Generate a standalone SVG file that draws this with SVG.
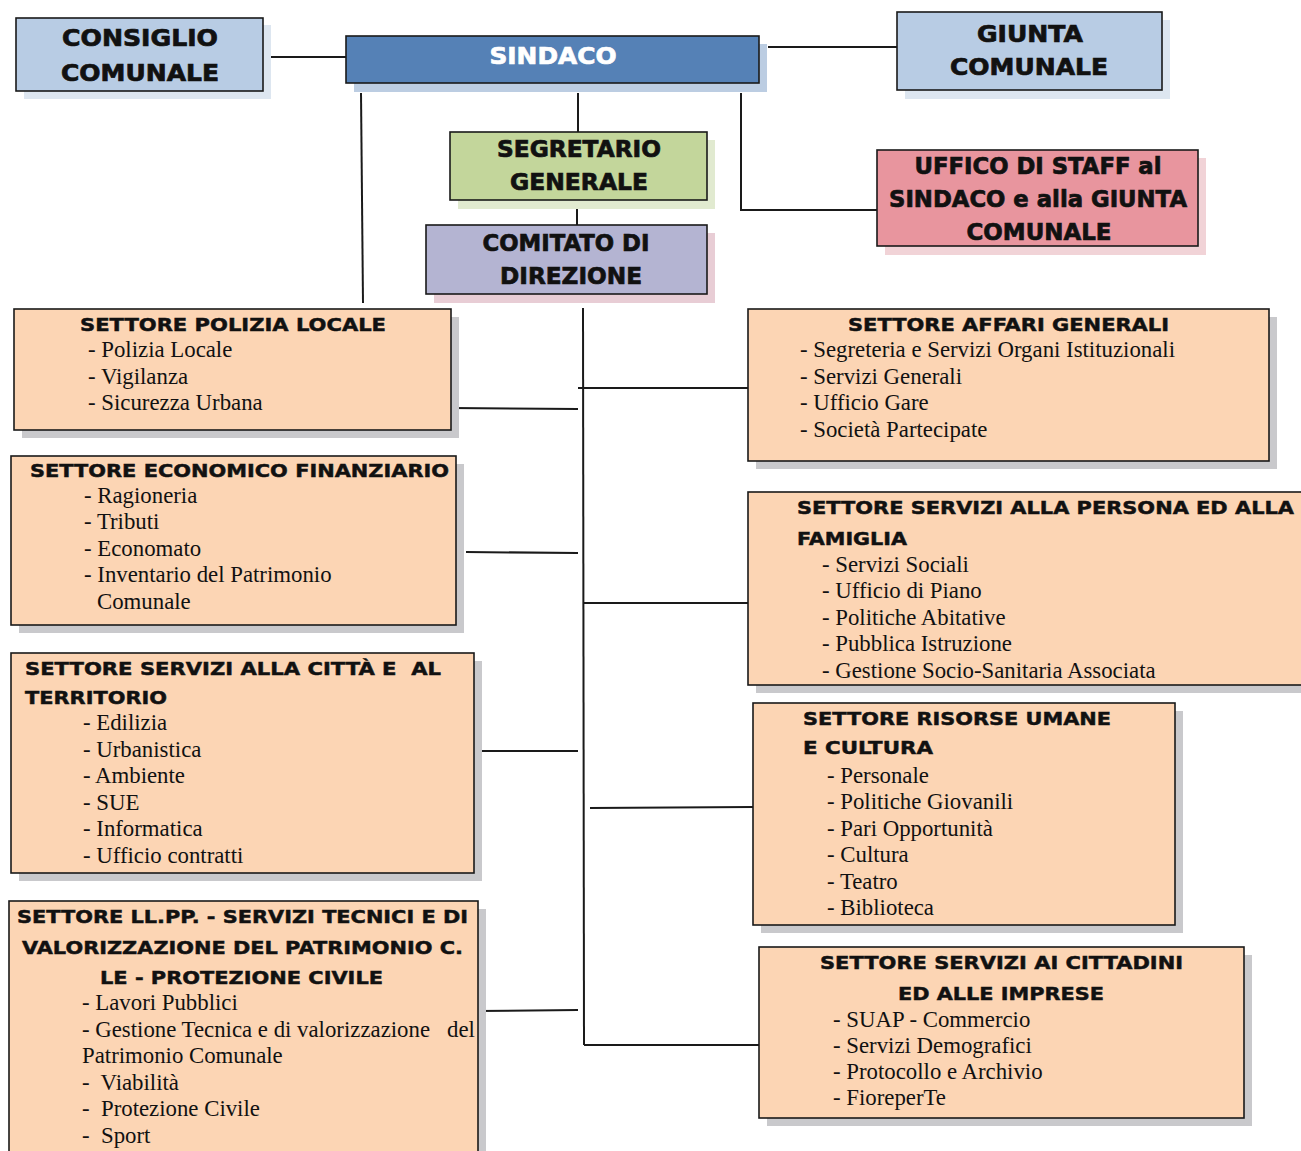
<svg xmlns="http://www.w3.org/2000/svg" width="1301" height="1151" viewBox="0 0 1301 1151">
<style>
.box{stroke:#1a1a1a;stroke-width:1.6}
.peach{fill:#fcd5b4}
.sh{fill:#c9c9cc}
.hd{font-family:"DejaVu Sans","Liberation Sans",sans-serif;font-weight:bold;fill:#111;stroke:#111;stroke-width:0.45}
.top{font-family:"DejaVu Sans","Liberation Sans",sans-serif;font-weight:bold;fill:#111;stroke:#111;stroke-width:0.7;font-size:23px}
.wt{fill:#ffffff;stroke:#ffffff}
.it{font-family:"Liberation Serif","Times New Roman",serif;font-size:22.8px;fill:#111}
.ln{stroke:#1a1a1a;stroke-width:2;fill:none}
</style>
<rect width="1301" height="1151" fill="#ffffff"/>

<g id="connectors">
<line class="ln" x1="264" y1="57" x2="346" y2="57"/>
<line class="ln" x1="768" y1="47" x2="897" y2="47"/>
<line class="ln" x1="361" y1="93" x2="363" y2="303"/>
<line class="ln" x1="578" y1="93" x2="578" y2="132"/>
<line class="ln" x1="577" y1="200" x2="577" y2="232"/>
<polyline class="ln" points="741,93 741,210 877,210"/>
<line class="ln" x1="583" y1="308" x2="584" y2="1045"/>
<line class="ln" x1="578" y1="388" x2="748" y2="388"/>
<line class="ln" x1="451" y1="408" x2="578" y2="409"/>
<line class="ln" x1="466" y1="552" x2="578" y2="553"/>
<line class="ln" x1="584" y1="603" x2="748" y2="603"/>
<line class="ln" x1="474" y1="751" x2="578" y2="751"/>
<line class="ln" x1="590" y1="808" x2="753" y2="807"/>
<line class="ln" x1="478" y1="1011" x2="578" y2="1010"/>
<line class="ln" x1="584" y1="1045" x2="759" y2="1045"/>
</g>

<g id="consiglio">
<rect x="24" y="25" width="247" height="74" fill="#dde6f0"/>
<rect class="box" x="16" y="18" width="247" height="73" fill="#b8cce4"/>
<text class="top" x="140" y="46" text-anchor="middle" textLength="156" lengthAdjust="spacingAndGlyphs">CONSIGLIO</text>
<text class="top" x="140" y="81" text-anchor="middle" textLength="158" lengthAdjust="spacingAndGlyphs">COMUNALE</text>
</g>

<g id="sindaco">
<rect x="354" y="44" width="413" height="48" fill="#bccde2"/>
<rect class="box" x="346" y="36" width="413" height="47" fill="#5581b6"/>
<text class="top wt" x="553" y="64" text-anchor="middle" textLength="127" lengthAdjust="spacingAndGlyphs">SINDACO</text>
</g>

<g id="giunta">
<rect x="905" y="20" width="265" height="79" fill="#dde6f0"/>
<rect class="box" x="897" y="12" width="265" height="78" fill="#b8cce4"/>
<text class="top" x="1030" y="42" text-anchor="middle" textLength="106" lengthAdjust="spacingAndGlyphs">GIUNTA</text>
<text class="top" x="1029" y="75" text-anchor="middle" textLength="158" lengthAdjust="spacingAndGlyphs">COMUNALE</text>
</g>

<g id="segretario">
<rect x="458" y="140" width="257" height="69" fill="#e1ead0"/>
<rect class="box" x="450" y="132" width="257" height="68" fill="#c3d69b"/>
<text class="top" x="579" y="157" text-anchor="middle" textLength="164" lengthAdjust="spacingAndGlyphs">SEGRETARIO</text>
<text class="top" x="579" y="190" text-anchor="middle" textLength="138" lengthAdjust="spacingAndGlyphs">GENERALE</text>
</g>

<g id="comitato">
<rect x="434" y="233" width="281" height="70" fill="#e8cdd5"/>
<rect class="box" x="426" y="225" width="281" height="69" fill="#b4b4d2"/>
<text class="top" x="566" y="251" text-anchor="middle" textLength="167" lengthAdjust="spacingAndGlyphs">COMITATO DI</text>
<text class="top" x="571" y="284" text-anchor="middle" textLength="142" lengthAdjust="spacingAndGlyphs">DIREZIONE</text>
</g>

<g id="staff">
<rect x="885" y="158" width="321" height="97" fill="#f1d3d7"/>
<rect class="box" x="877" y="150" width="321" height="96" fill="#e8959e"/>
<text class="top" x="1038" y="174" text-anchor="middle" textLength="247" lengthAdjust="spacingAndGlyphs">UFFICO DI STAFF al</text>
<text class="top" x="1038" y="207" text-anchor="middle" textLength="298" lengthAdjust="spacingAndGlyphs">SINDACO e alla GIUNTA</text>
<text class="top" x="1039" y="240" text-anchor="middle" textLength="145" lengthAdjust="spacingAndGlyphs">COMUNALE</text>
</g>

<g id="polizia">
<rect class="sh" x="22" y="317" width="437" height="121"/>
<rect class="box peach" x="14" y="309" width="437" height="121"/>
<text class="hd" x="80" y="331" font-size="17" textLength="306" lengthAdjust="spacingAndGlyphs">SETTORE POLIZIA LOCALE</text>
<text class="it" x="88" y="357">- Polizia Locale</text>
<text class="it" x="88" y="384">- Vigilanza</text>
<text class="it" x="88" y="410">- Sicurezza Urbana</text>
</g>

<g id="economico">
<rect class="sh" x="19" y="464" width="445" height="169"/>
<rect class="box peach" x="11" y="456" width="445" height="169"/>
<text class="hd" x="30" y="477" font-size="17" textLength="419" lengthAdjust="spacingAndGlyphs">SETTORE ECONOMICO FINANZIARIO</text>
<text class="it" x="84" y="503">- Ragioneria</text>
<text class="it" x="84" y="529">- Tributi</text>
<text class="it" x="84" y="556">- Economato</text>
<text class="it" x="84" y="582">- Inventario del Patrimonio</text>
<text class="it" x="97" y="609">Comunale</text>
</g>

<g id="citta">
<rect class="sh" x="19" y="661" width="463" height="220"/>
<rect class="box peach" x="11" y="653" width="463" height="220"/>
<text class="hd" x="25" y="675" font-size="17" textLength="416" lengthAdjust="spacingAndGlyphs" xml:space="preserve">SETTORE SERVIZI ALLA CITTÀ E  AL</text>
<text class="hd" x="25" y="704" font-size="17" textLength="142" lengthAdjust="spacingAndGlyphs">TERRITORIO</text>
<text class="it" x="83" y="730">- Edilizia</text>
<text class="it" x="83" y="757">- Urbanistica</text>
<text class="it" x="83" y="783">- Ambiente</text>
<text class="it" x="83" y="810">- SUE</text>
<text class="it" x="83" y="836">- Informatica</text>
<text class="it" x="83" y="863">- Ufficio contratti</text>
</g>

<g id="llpp">
<rect class="sh" x="17" y="909" width="469" height="250"/>
<rect class="box peach" x="9" y="901" width="469" height="260"/>
<text class="hd" x="17" y="923" font-size="17" textLength="451" lengthAdjust="spacingAndGlyphs">SETTORE LL.PP. - SERVIZI TECNICI E DI</text>
<text class="hd" x="22" y="954" font-size="17" textLength="441" lengthAdjust="spacingAndGlyphs">VALORIZZAZIONE DEL PATRIMONIO C.</text>
<text class="hd" x="100" y="984" font-size="17" textLength="283" lengthAdjust="spacingAndGlyphs">LE - PROTEZIONE CIVILE</text>
<text class="it" x="82" y="1010">- Lavori Pubblici</text>
<text class="it" x="82" y="1037" xml:space="preserve">- Gestione Tecnica e di valorizzazione   del</text>
<text class="it" x="82" y="1063">Patrimonio Comunale</text>
<text class="it" x="82" y="1090" xml:space="preserve">-  Viabilità</text>
<text class="it" x="82" y="1116" xml:space="preserve">-  Protezione Civile</text>
<text class="it" x="82" y="1143" xml:space="preserve">-  Sport</text>
</g>

<g id="affari">
<rect class="sh" x="756" y="317" width="521" height="152"/>
<rect class="box peach" x="748" y="309" width="521" height="152"/>
<text class="hd" x="848" y="331" font-size="17" textLength="321" lengthAdjust="spacingAndGlyphs">SETTORE AFFARI GENERALI</text>
<text class="it" x="800" y="357">- Segreteria e Servizi Organi Istituzionali</text>
<text class="it" x="800" y="384">- Servizi Generali</text>
<text class="it" x="800" y="410">- Ufficio Gare</text>
<text class="it" x="800" y="437">- Società Partecipate</text>
</g>

<g id="persona">
<rect class="sh" x="756" y="500" width="553" height="193"/>
<rect class="box peach" x="748" y="492" width="560" height="193"/>
<text class="hd" x="797" y="514" font-size="17" textLength="497" lengthAdjust="spacingAndGlyphs">SETTORE SERVIZI ALLA PERSONA ED ALLA</text>
<text class="hd" x="797" y="545" font-size="17" textLength="110" lengthAdjust="spacingAndGlyphs">FAMIGLIA</text>
<text class="it" x="822" y="572">- Servizi Sociali</text>
<text class="it" x="822" y="598">- Ufficio di Piano</text>
<text class="it" x="822" y="625">- Politiche Abitative</text>
<text class="it" x="822" y="651">- Pubblica Istruzione</text>
<text class="it" x="822" y="678">- Gestione Socio-Sanitaria Associata</text>
</g>

<g id="risorse">
<rect class="sh" x="761" y="711" width="422" height="222"/>
<rect class="box peach" x="753" y="703" width="422" height="222"/>
<text class="hd" x="803" y="725" font-size="17" textLength="308" lengthAdjust="spacingAndGlyphs">SETTORE RISORSE UMANE</text>
<text class="hd" x="803" y="754" font-size="17" textLength="130" lengthAdjust="spacingAndGlyphs">E CULTURA</text>
<text class="it" x="827" y="783">- Personale</text>
<text class="it" x="827" y="809">- Politiche Giovanili</text>
<text class="it" x="827" y="836">- Pari Opportunità</text>
<text class="it" x="827" y="862">- Cultura</text>
<text class="it" x="827" y="889">- Teatro</text>
<text class="it" x="827" y="915">- Biblioteca</text>
</g>

<g id="cittadini">
<rect class="sh" x="767" y="955" width="485" height="171"/>
<rect class="box peach" x="759" y="947" width="485" height="171"/>
<text class="hd" x="820" y="969" font-size="17" textLength="363" lengthAdjust="spacingAndGlyphs">SETTORE SERVIZI AI CITTADINI</text>
<text class="hd" x="898" y="1000" font-size="17" textLength="206" lengthAdjust="spacingAndGlyphs">ED ALLE IMPRESE</text>
<text class="it" x="833" y="1027">- SUAP - Commercio</text>
<text class="it" x="833" y="1053">- Servizi Demografici</text>
<text class="it" x="833" y="1079">- Protocollo e Archivio</text>
<text class="it" x="833" y="1105">- FioreperTe</text>
</g>
</svg>
